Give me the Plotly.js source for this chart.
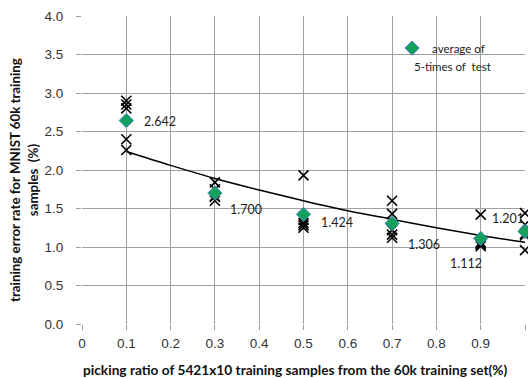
<!DOCTYPE html>
<html>
<head>
<meta charset="utf-8">
<script src="https://cdn.plot.ly/plotly-3.0.1.min.js"></script>
<style>
html,body{margin:0;padding:0;background:#fff;}
#chart{width:528px;height:378px;}
</style>
</head>
<body>
<div id="chart"></div>
<script>
// picking ratio values (x categories)
var ratios = [0.1, 0.3, 0.5, 0.7, 0.9, 1.0];
// five test runs (training error rate, %)
var trial1 = [2.90, 1.84, 1.93, 1.60, 1.42, 1.44];
var trial2 = [2.85, 1.75, 1.35, 1.43, 1.06, 1.29];
var trial3 = [2.80, 1.66, 1.31, 1.22, 1.04, 1.17];
var trial4 = [2.40, 1.65, 1.28, 1.16, 1.03, 1.15];
var trial5 = [2.26, 1.60, 1.25, 1.12, 1.01, 0.96];
// average of 5 tests
var averages = [2.642, 1.700, 1.424, 1.306, 1.112, 1.201];
var avgLabels = ["2.642", "1.700", "1.424", "1.306", "1.112", "1.201"];
// trendline
var trendX = [0.1, 0.2, 0.3, 0.4, 0.5, 0.6, 0.7, 0.8, 0.9, 1.0];
var trendY = [2.24, 2.06, 1.89, 1.74, 1.60, 1.47, 1.36, 1.25, 1.15, 1.06];
// axis ticks
var xTicks = [0, 0.1, 0.2, 0.3, 0.4, 0.5, 0.6, 0.7, 0.8, 0.9, 1];
var xTickText = ["0", "0.1", "0.2", "0.3", "0.4", "0.5", "0.6", "0.7", "0.8", "0.9", "1"];
var yTicks = [0, 0.5, 1, 1.5, 2, 2.5, 3, 3.5, 4];
var yTickText = ["0.0", "0.5", "1.0", "1.5", "2.0", "2.5", "3.0", "3.5", "4.0"];
var legendName = "average of";
var legendLine2 = "5-times of&nbsp; test";
var xTitle = "picking ratio of 5421x10 training samples from the 60k training set(%)";
var yTitleLine1 = "training error rate for MNIST 60k training";
var yTitleLine2 = "samples&nbsp; (%)";

// label placement (style, pixels)
var labelShiftX = [16, 13, 15, 14, -33, -35];
var labelShiftY = [-1, -16, -8, -21, -25, 13];

var FONT = "Lato, 'Open Sans', sans-serif";
var TICKFONT = "'Liberation Sans', Arial, sans-serif";
var traces = [];
var trials = [trial1, trial2, trial3, trial4, trial5];
trials.forEach(function (t) {
  traces.push({
    x: ratios, y: t, type: "scatter", mode: "markers", showlegend: false,
    cliponaxis: false, hoverinfo: "skip",
    marker: {symbol: "x-thin-open", size: 10, color: "#000", line: {color: "#000", width: 1.6}}
  });
});
traces.push({
  x: trendX, y: trendY, type: "scatter", mode: "lines", showlegend: false,
  line: {color: "#000", width: 1.5, shape: "spline"}, hoverinfo: "skip"
});
traces.push({
  x: ratios, y: averages, type: "scatter", mode: "markers", name: legendName,
  showlegend: true, cliponaxis: false,
  marker: {symbol: "diamond", size: 11, color: "#12a05c", line: {color: "#4a86c0", width: 1}}
});

var annotations = ratios.map(function (r, i) {
  return {
    x: r, y: averages[i], xref: "x", yref: "y", text: avgLabels[i], showarrow: false,
    xanchor: "left", yanchor: "middle", xshift: labelShiftX[i], yshift: labelShiftY[i],
    font: {family: FONT, size: 12.5, color: "#222"}
  };
});
annotations.push({
  xref: "paper", yref: "paper", x: 0.746, y: 0.837, xanchor: "left", yanchor: "middle",
  text: legendLine2, showarrow: false, font: {family: FONT, size: 11.5, color: "#222"}
});
annotations.push({
  xref: "paper", yref: "paper", x: 0.483, y: -0.148, xanchor: "center", yanchor: "middle",
  text: "<b>" + xTitle + "</b>",
  showarrow: false, font: {family: FONT, size: 13.7, color: "#111"}
});
annotations.push({
  xref: "paper", yref: "paper", x: -0.151, y: 0.468, xanchor: "center", yanchor: "middle",
  textangle: -90, text: "<b>" + yTitleLine1 + "</b>",
  showarrow: false, font: {family: FONT, size: 13.3, color: "#111"}
});
annotations.push({
  xref: "paper", yref: "paper", x: -0.110, y: 0.468, xanchor: "center", yanchor: "middle",
  textangle: -90, text: "<b>" + yTitleLine2 + "</b>",
  showarrow: false, font: {family: FONT, size: 13.3, color: "#111"}
});

var layout = {
  width: 528, height: 378,
  margin: {l: 82, r: 3, t: 16, b: 54, pad: 0},
  paper_bgcolor: "#fff", plot_bgcolor: "#fff",
  showlegend: true,
  legend: {x: 0.70, y: 0.896, xanchor: "left", yanchor: "middle", bgcolor: "rgba(0,0,0,0)",
           font: {family: FONT, size: 11.5, color: "#222"}},
  xaxis: {
    range: [0, 1], tickvals: xTicks, ticktext: xTickText,
    showgrid: true, gridcolor: "#a0a0a0", gridwidth: 1,
    zeroline: false, showline: false,
    ticks: "outside", ticklen: 5, tickcolor: "#a0a0a0", ticklabelstandoff: 2,
    tickfont: {family: TICKFONT, size: 13.5, color: "#333"}
  },
  yaxis: {
    range: [0, 4], tickvals: yTicks, ticktext: yTickText,
    showgrid: true, gridcolor: "#a0a0a0", gridwidth: 1,
    zeroline: false, showline: false,
    ticks: "outside", ticklen: 5, tickcolor: "#a0a0a0", ticklabelstandoff: 10,
    tickfont: {family: TICKFONT, size: 13.5, color: "#333"}
  },
  annotations: annotations
};

Plotly.newPlot("chart", traces, layout, {displayModeBar: false, staticPlot: true});
</script>
</body>
</html>
